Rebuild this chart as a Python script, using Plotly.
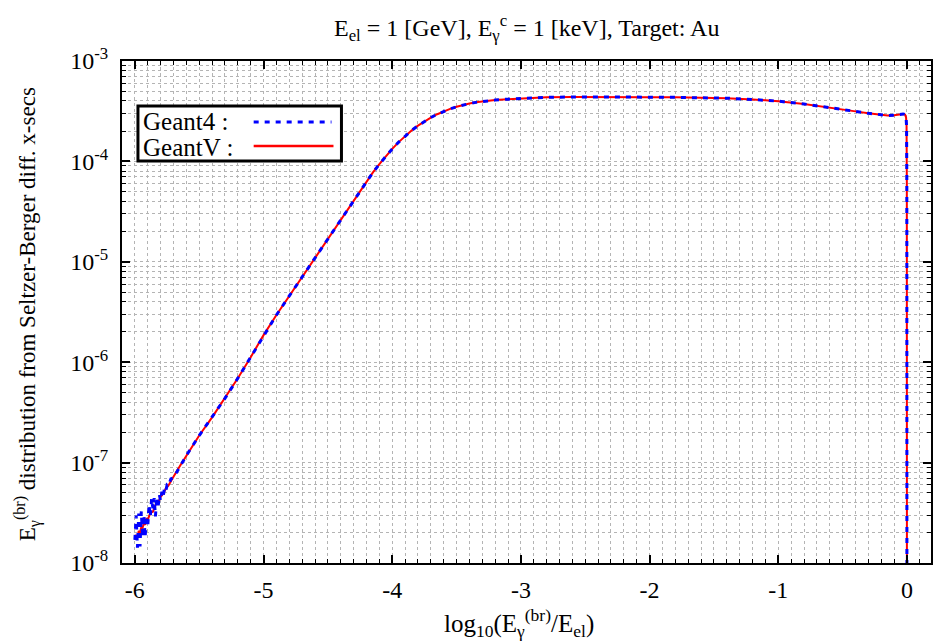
import plotly.graph_objects as go

# ---------------- data ----------------
# Geant4 (blue dashed) : noisy low-energy part
g4_x = [-6.00, -5.99, -5.98, -5.97, -5.96, -5.95, -5.94, -5.93, -5.92, -5.91,
        -5.90, -5.89, -5.88, -5.87, -5.86, -5.85, -5.84, -5.83, -5.82, -5.81,
        -5.80, -5.79, -5.78, -5.77, -5.76, -5.75, -5.74, -5.72, -5.70]
g4_y = [1.70e-8, 2.96e-8, 1.42e-8, 3.11e-8, 1.46e-8, 3.27e-8, 1.80e-8, 3.00e-8, 1.81e-8, 2.94e-8,
        2.29e-8, 3.81e-8, 2.90e-8, 4.40e-8, 3.50e-8, 4.42e-8, 2.92e-8, 4.54e-8, 3.53e-8, 4.78e-8,
        4.17e-8, 5.14e-8, 4.59e-8, 5.53e-8, 5.18e-8, 5.96e-8, 5.83e-8, 6.89e-8, 7.08e-8]

# GeantV (red solid) : low-energy part
gv_x = [-6.00, -5.99, -5.98, -5.97, -5.96, -5.95, -5.94, -5.93, -5.92, -5.91,
        -5.90, -5.88, -5.86, -5.84, -5.82, -5.80, -5.78, -5.76, -5.74, -5.72, -5.70]
gv_y = [1.70e-8, 1.91e-8, 1.82e-8, 2.09e-8, 2.00e-8, 2.29e-8, 2.24e-8, 2.51e-8, 2.40e-8, 2.75e-8,
        2.69e-8, 3.16e-8, 3.24e-8, 3.80e-8, 3.98e-8, 4.57e-8, 4.90e-8, 5.50e-8, 5.89e-8, 6.61e-8, 7.24e-8]

# common smooth part (both codes agree)
common_x = [-5.65, -5.6, -5.5, -5.4, -5.3, -5.2, -5.1, -5.0, -4.9, -4.8,
            -4.7, -4.6, -4.5, -4.4, -4.3, -4.2, -4.15, -4.1, -4.05, -4.0,
            -3.95, -3.9, -3.85, -3.8, -3.75, -3.7, -3.65, -3.6, -3.55, -3.5,
            -3.45, -3.4, -3.35, -3.3, -3.2, -3.1, -3.0, -2.8, -2.6, -2.4,
            -2.2, -2.0, -1.8, -1.6, -1.4, -1.2, -1.0, -0.8, -0.6, -0.4,
            -0.3, -0.2, -0.15, -0.1, -0.06, -0.03, -0.015, -0.007, -0.003, -0.001,
            0.0]
common_y = [9.23e-8, 1.175e-7, 1.86e-7, 2.82e-7, 4.37e-7, 6.92e-7, 1.12e-6, 1.86e-6, 2.95e-6, 4.57e-6,
            7.08e-6, 1.10e-5, 1.69e-5, 2.63e-5, 4.12e-5, 6.38e-5, 7.76e-5, 9.39e-5, 1.125e-4, 1.332e-4,
            1.556e-4, 1.791e-4, 2.030e-4, 2.270e-4, 2.506e-4, 2.735e-4, 2.951e-4, 3.150e-4, 3.334e-4, 3.499e-4,
            3.643e-4, 3.767e-4, 3.873e-4, 3.954e-4, 4.083e-4, 4.169e-4, 4.236e-4, 4.345e-4, 4.385e-4, 4.395e-4,
            4.385e-4, 4.365e-4, 4.345e-4, 4.315e-4, 4.26e-4, 4.14e-4, 3.98e-4, 3.73e-4, 3.45e-4, 3.15e-4,
            3.01e-4, 2.90e-4, 2.87e-4, 2.88e-4, 2.93e-4, 2.97e-4, 2.93e-4, 2.75e-4, 2.24e-4, 6.3e-5,
            1e-10]

x_tick_vals = [-6, -5, -4, -3, -2, -1, 0]
x_tick_text = ["-6", "-5", "-4", "-3", "-2", "-1", "0"]
y_tick_vals = [1e-8, 1e-7, 1e-6, 1e-5, 1e-4, 1e-3]
y_tick_text = ["10<sup>-8</sup>", "10<sup>-7</sup>", "10<sup>-6</sup>",
               "10<sup>-5</sup>", "10<sup>-4</sup>", "10<sup>-3</sup>"]

title_text = "E<sub>el</sub> = 1 [GeV], E<sub>γ</sub><sup>c</sup> = 1 [keV], Target: Au"
x_title = "log<sub>10</sub>(E<sub>γ</sub><sup>(br)</sup>/E<sub>el</sub>)"
y_title = "E<sub>γ</sub><sup>(br)</sup> distribution from Seltzer-Berger diff. x-secs"
legend_names = ["Geant4 :", "GeantV :"]

# ---------------- figure ----------------
W, H = 933, 643
ML, MR, MT, MB = 122, 0, 61, 80
PW, PH = W - ML - MR, H - MT - MB
FONT = "Liberation Serif, Times New Roman, serif"
BLUE = "#0000ff"
RED = "#ff0000"


def px(xp):
    return (xp - ML) / PW


def py(yp):
    return (H - MB - yp) / PH


fig = go.Figure()
fig.add_trace(go.Scatter(x=gv_x + common_x, y=gv_y + common_y, mode="lines",
                         line=dict(color=RED, width=2), name=legend_names[1],
                         showlegend=False))
fig.add_trace(go.Scatter(x=g4_x + common_x, y=g4_y + common_y, mode="lines",
                         line=dict(color=BLUE, width=3, dash="5px,6px"),
                         name=legend_names[0], showlegend=False))

minor_x = [v / 10 for v in range(-61, 2)]
minor_y = [k * 10.0 ** e for e in range(-8, -3) for k in range(2, 10)]

grid_col = "#b4b4b4"
TICKF = dict(family=FONT, size=24, color="black")
fig.update_xaxes(range=[-6.1, -6.1 + PW / 129.0], tickmode="array",
                 tickvals=x_tick_vals, ticktext=x_tick_text,
                 ticks="inside", ticklen=8, tickwidth=1.5, tickcolor="black",
                 showline=True, linecolor="black", linewidth=2, mirror="allticks",
                 showgrid=True, gridcolor=grid_col, griddash="dot", gridwidth=1,
                 zeroline=False, tickfont=TICKF, ticklabelstandoff=4,
                 minor=dict(tickmode="array", tickvals=minor_x, ticks="inside",
                            ticklen=4, tickwidth=1.2, tickcolor="black",
                            showgrid=True, gridcolor=grid_col, griddash="dot",
                            gridwidth=1))
fig.update_yaxes(type="log", range=[-8, -3], tickmode="array",
                 tickvals=y_tick_vals, ticktext=y_tick_text,
                 ticks="inside", ticklen=8, tickwidth=1.5, tickcolor="black",
                 showline=True, linecolor="black", linewidth=2, mirror="allticks",
                 showgrid=True, gridcolor=grid_col, griddash="dot", gridwidth=1,
                 zeroline=False, tickfont=TICKF, ticklabelstandoff=7,
                 minor=dict(tickmode="array", tickvals=minor_y, ticks="inside",
                            ticklen=4, tickwidth=1.2, tickcolor="black",
                            showgrid=True, gridcolor=grid_col, griddash="dot",
                            gridwidth=1))

annotations = [
    dict(text=title_text, x=0.5, y=py(28), xref="paper", yref="paper",
         showarrow=False, xanchor="center", yanchor="middle",
         font=dict(family=FONT, size=24, color="black")),
    dict(text=x_title, x=px(520), y=py(623), xref="paper", yref="paper",
         showarrow=False, xanchor="center", yanchor="middle",
         font=dict(family=FONT, size=25, color="black")),
    dict(text=y_title, x=px(27), y=py(314), xref="paper", yref="paper",
         showarrow=False, xanchor="center", yanchor="middle", textangle=-90,
         font=dict(family=FONT, size=23, color="black")),
    dict(text=legend_names[0], x=px(141), y=py(121), xref="paper", yref="paper",
         showarrow=False, xanchor="left", yanchor="middle",
         font=dict(family=FONT, size=25, color="black")),
    dict(text=legend_names[1], x=px(141), y=py(147), xref="paper", yref="paper",
         showarrow=False, xanchor="left", yanchor="middle",
         font=dict(family=FONT, size=25, color="black")),
]

shapes = [
    dict(type="rect", xref="paper", yref="paper", x0=px(138), x1=px(342),
         y0=py(106), y1=py(161), line=dict(color="black", width=3),
         fillcolor="white", layer="above"),
    dict(type="line", xref="paper", yref="paper", x0=px(254), x1=px(332),
         y0=py(122), y1=py(122), line=dict(color=BLUE, width=3, dash="5px,6px"),
         layer="above"),
    dict(type="line", xref="paper", yref="paper", x0=px(254), x1=px(334),
         y0=py(146), y1=py(146), line=dict(color=RED, width=2.5),
         layer="above"),
]

fig.update_layout(width=W, height=H, margin=dict(l=ML, r=MR, t=MT, b=MB),
                  paper_bgcolor="white", plot_bgcolor="white",
                  annotations=annotations, shapes=shapes, showlegend=False,
                  font=dict(family=FONT, size=24, color="black"))

fig.write_html("out.html")
